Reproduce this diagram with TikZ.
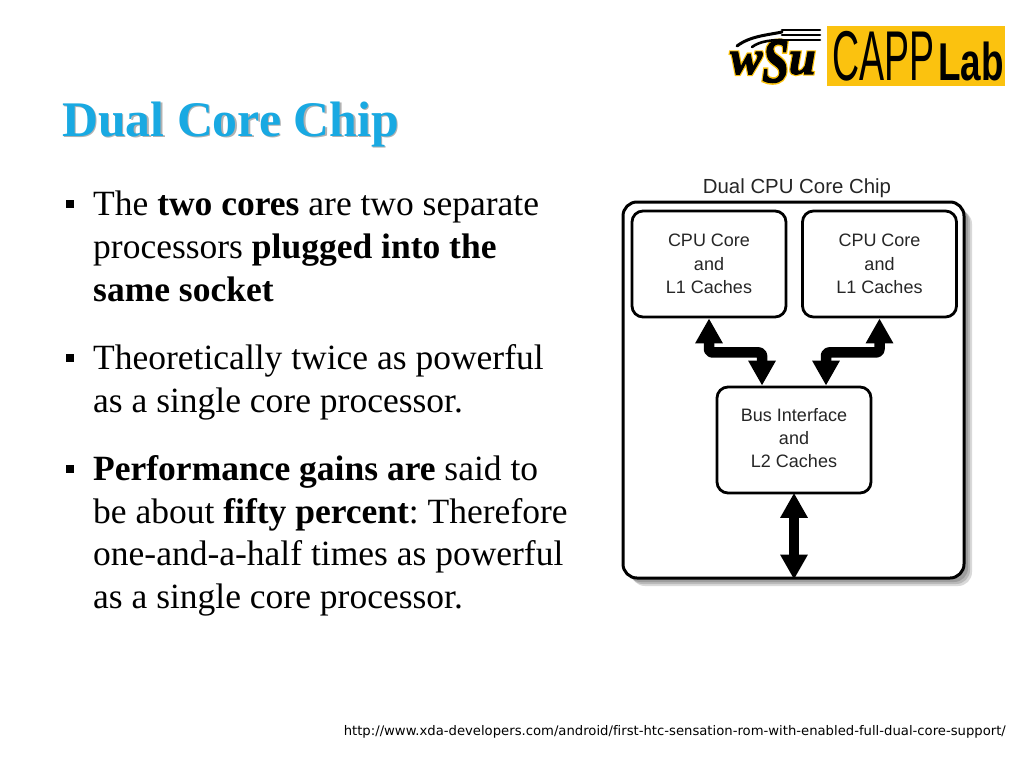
\documentclass[tikz,border=0pt]{standalone}
\usepackage{fontspec}
\setmainfont{Liberation Serif}
\newfontfamily\arial{Liberation Sans}
\newfontfamily\urlfont[Ligatures=NoCommon]{DejaVu Sans}
\usetikzlibrary{arrows.meta,shadows,calc}
\definecolor{titleblue}{HTML}{19A9E2}
\definecolor{logogold}{HTML}{FBC20F}
\frenchspacing
\tikzset{
	chipbox/.style={draw,line width=2.8pt,rounded corners=11pt,fill=white,align=center,text=black!85,font=\arial\fontsize{18}{23.3}\selectfont,minimum width=154pt,minimum height=106pt},
	busarrow/.style={line width=10.5pt,line join=round,rounded corners=3pt,{Triangle[length=25pt,width=26pt]}-{Triangle[length=25pt,width=26pt]}},
	bodyline/.style={anchor=base west,inner sep=0pt,font=\fontsize{35.5}{40}\selectfont},
	bulletmark/.style={fill=black,inner sep=0pt,minimum size=8pt},
	wheat/.style={line width=2.6pt,line cap=round},
	logotext/.style={anchor=base,inner sep=0pt,font=\fontsize{48}{50}\selectfont\bfseries\itshape},
	softshadow/.style={shadow xshift=#1,shadow yshift=-#1,fill=black,opacity=0.15}
}
% letters of the logo, stroked with the pen given as #1
\newcommand{\wsutext}[1]{\special{pdf:code #1}w\raisebox{-8pt}{\scalebox{1}[1.3]{\special{pdf:code #1}S}}\special{pdf:code #1}u}
\begin{document}
\begin{tikzpicture}[x=1pt,y=-1pt]
	\useasboundingbox (0,0) rectangle (1024,768);
	% title
	\node[anchor=base west,inner sep=0pt,font=\fontsize{49.8}{50}\selectfont\bfseries,text=black!30] (titleshadow) at (63.5,137.5) {Dual Core Chip};
	\node[anchor=base west,inner sep=0pt,font=\fontsize{49.8}{50}\selectfont\bfseries,text=titleblue] (title) at (62,136) {Dual Core Chip};
	% logo
	\node[logotext] (wsuglow) at (773,74) {\wsutext{2 Tr 3.4 w 0.98 0.76 0.06 RG}};
	\node[logotext] (wsu) at (773,74) {\wsutext{2 Tr 1 w 0 0 0 RG}};
	\draw[wheat,line width=3pt] (737,46) .. controls (750,36) and (768,35) .. (782,32);
	\draw[wheat] (752,47) .. controls (760,41) and (772,40) .. (782,40);
	\foreach \ypos in {30,35,40}
		\draw[wheat] (782,\ypos) -- (820,\ypos);
	\node[fill=logogold,minimum width=178pt,minimum height=60pt,inner sep=0pt] (capp) at (916,56) {};
	\node[anchor=base west,inner sep=0pt,font=\arial\fontsize{50}{50}\selectfont] (capptext) at (832,80.5) {\scalebox{0.75}[1.41]{CAPP}};
	\node[anchor=base west,inner sep=0pt,font=\arial\fontsize{38}{40}\selectfont\bfseries] (lab) at (938,80) {\scalebox{0.97}[1.4]{Lab}};
	% body text
	\foreach \ypos/\txt [count=\i] in {
		215/{The \textbf{two cores} are two separate},
		258/{processors \textbf{plugged into the}},
		301/{\textbf{same socket}},
		369/{Theoretically twice as powerful},
		412/{as a single core processor.},
		480/{\textbf{Performance gains are} said to},
		523/{be about \textbf{fifty percent}: Therefore},
		565/{one-and-a-half times as powerful},
		608/{as a single core processor.}}
		\node[bodyline] (line\i) at (93,\ypos) {\txt};
	\node[bulletmark] (bulleta) at (70,204) {};
	\node[bulletmark] (bulletb) at (70,358) {};
	\node[bulletmark] (bulletc) at (70,469) {};
	% chip diagram
	\node[text=black!85,font=\arial\fontsize{20.4}{22}\selectfont] (chiptitle) at (797,188.5) {Dual CPU Core Chip};
	\node[draw,line width=3pt,rounded corners=14pt,fill=white,minimum width=341pt,minimum height=376pt,inner sep=0pt,
		drop shadow={softshadow=8pt},drop shadow={softshadow=6pt},drop shadow={softshadow=4pt}] (chip) at (793.5,390) {};
	\node[chipbox] (corea) at (709,264) {CPU Core\\and\\L1 Caches};
	\node[chipbox] (coreb) at (879.5,264) {CPU Core\\and\\L1 Caches};
	\node[chipbox] (bus) at (794,440) {Bus Interface\\and\\L2 Caches\rule[-4pt]{0pt}{1pt}};
	\coordinate (busa) at ([xshift=-32pt]bus.north);
	\coordinate (busb) at ([xshift=32pt]bus.north);
	\coordinate (buschip) at (bus.south |- chip.south);
	% arrows
	\draw[busarrow] (corea.south) -- ($(corea.south)+(0,34)$) -| (busa);
	\draw[busarrow] (coreb.south) -- ($(coreb.south)+(0,34)$) -| (busb);
	\draw[busarrow,shorten <=-1.5pt] (bus.south) -- (buschip);
	% source link
	\node[anchor=base east,inner sep=0pt,font=\urlfont\fontsize{13.2}{15}\selectfont] (source) at (1006,735) {http://www.xda-developers.com/android/first-htc-sensation-rom-with-enabled-full-dual-core-support/};
\end{tikzpicture}
\end{document}
